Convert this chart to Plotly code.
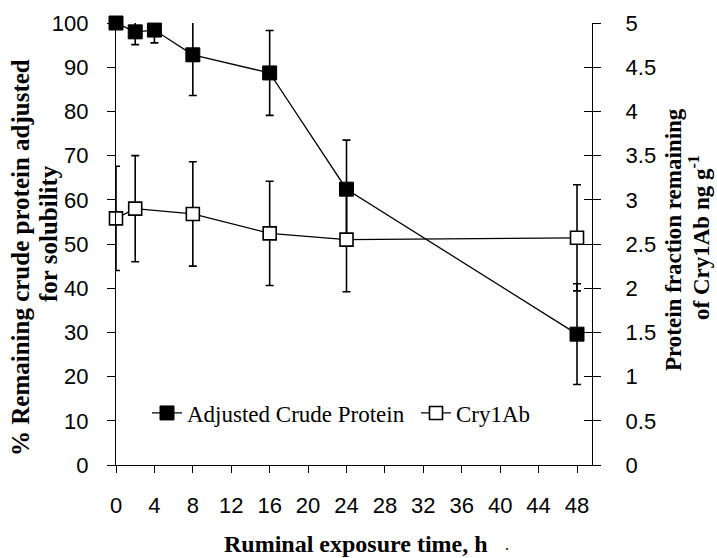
import plotly.graph_objects as go

# Adjusted crude protein (% remaining, left axis)
acp_time = [0, 2, 4, 8, 16, 24, 48]
acp_value = [100, 98.0, 98.4, 92.8, 88.7, 62.4, 29.6]
acp_err = [0, 2.9, 2.9, 9.2, 9.6, 11.1, 11.4]

# Cry1Ab (ng g-1, right axis)
cry_time = [0, 2, 8, 16, 24, 48]
cry_value = [2.79, 2.90, 2.84, 2.62, 2.55, 2.57]
cry_err = [0.59, 0.60, 0.59, 0.59, 0.59, 0.60]

x_ticks = [0, 4, 8, 12, 16, 20, 24, 28, 32, 36, 40, 44, 48]

W, H = 717, 558
L, R, T, B = 116, 125, 23, 93
pw, ph = W - L - R, H - T - B

def px_x(p):
    return (p - L) / pw

def px_y(p):
    return (H - B - p) / ph

sans = "Liberation Sans"
serif = "Liberation Serif"

fig = go.Figure()
fig.add_trace(go.Scatter(
    x=acp_time, y=acp_value, name="Adjusted Crude Protein",
    mode="lines+markers",
    line=dict(color="black", width=1.3),
    marker=dict(symbol="square", size=14, color="black", line=dict(color="black", width=1)),
    error_y=dict(type="data", array=acp_err, visible=True, color="black", thickness=1.6, width=4),
    cliponaxis=False, yaxis="y", legend="legend",
))
fig.add_trace(go.Scatter(
    x=cry_time, y=cry_value, name="Cry1Ab",
    mode="lines+markers",
    line=dict(color="black", width=1.3),
    marker=dict(symbol="square", size=13, color="white", line=dict(color="black", width=1.6)),
    error_y=dict(type="data", array=cry_err, visible=True, color="black", thickness=1.6, width=4),
    cliponaxis=False, yaxis="y2", legend="legend2",
))
# helper trace so the third axis (inner right ticks) is drawn
fig.add_trace(go.Scatter(x=[None], y=[None], yaxis="y3", showlegend=False, hoverinfo="skip"))

def title_line(text, cx, cy, size, angle):
    return dict(text="<b>" + text + "</b>", xref="paper", yref="paper",
                x=px_x(cx), y=px_y(cy), textangle=angle, showarrow=False,
                xanchor="center", yanchor="middle",
                font=dict(family=serif, size=size, color="black"))

legend_style = dict(
    orientation="h", yanchor="middle", xanchor="left", y=px_y(413),
    font=dict(family=serif, size=23, color="black"),
    bgcolor="rgba(0,0,0,0)", itemwidth=30,
)

fig.update_layout(
    width=W, height=H,
    margin=dict(l=L, r=R, t=T, b=B),
    paper_bgcolor="white", plot_bgcolor="white",
    font=dict(family=serif, size=23, color="black"),
    showlegend=True,
    legend=dict(x=px_x(147), **legend_style),
    legend2=dict(x=px_x(416), **legend_style),
    xaxis=dict(
        range=[0, 49.56], tickmode="array", tickvals=x_ticks, ticktext=[str(v) for v in x_ticks],
        showgrid=False, zeroline=False, showline=True, linecolor="black", linewidth=1.3,
        ticks="outside", ticklen=7, tickwidth=1.2, tickcolor="black",
        tickfont=dict(family=sans, size=22, color="black"), ticklabelstandoff=13,
    ),
    yaxis=dict(
        range=[0, 100], dtick=10, showgrid=False, zeroline=False,
        showline=True, linecolor="black", linewidth=1.3,
        ticks="outside", ticklen=8, tickwidth=1.2, tickcolor="black",
        tickfont=dict(family=sans, size=22, color="black"), ticklabelstandoff=14,
    ),
    yaxis2=dict(
        range=[0, 5], dtick=0.5, overlaying="y", side="right", anchor="x",
        showgrid=False, zeroline=False, showline=True, linecolor="black", linewidth=1.3,
        ticks="outside", ticklen=8, tickwidth=1.2, tickcolor="black",
        tickfont=dict(family=sans, size=22, color="black"), ticklabelstandoff=20,
    ),
    yaxis3=dict(
        range=[0, 5], dtick=0.5, overlaying="y", side="right", anchor="x",
        showgrid=False, zeroline=False, showline=False, showticklabels=False,
        ticks="inside", ticklen=8, tickwidth=1.2, tickcolor="black",
    ),
    annotations=[
        title_line("% Remaining crude protein adjusted", 20, 258, 25, -90),
        title_line("for solubility", 48, 234, 25, -90),
        title_line("Protein fraction remaining", 673, 240, 23, -90),
        title_line("of Cry1Ab ng g<sup>-1</sup>", 699, 238, 23, -90),
        title_line("Ruminal exposure time, h", 356, 544, 24, 0),
        dict(text=".", xref="paper", yref="paper", x=px_x(507), y=px_y(544),
             showarrow=False, xanchor="center", yanchor="middle",
             font=dict(family=serif, size=16, color="black")),
    ],
)

fig.write_html("out.html", config={"displayModeBar": False},
               post_script="document.body.style.margin='0';")
